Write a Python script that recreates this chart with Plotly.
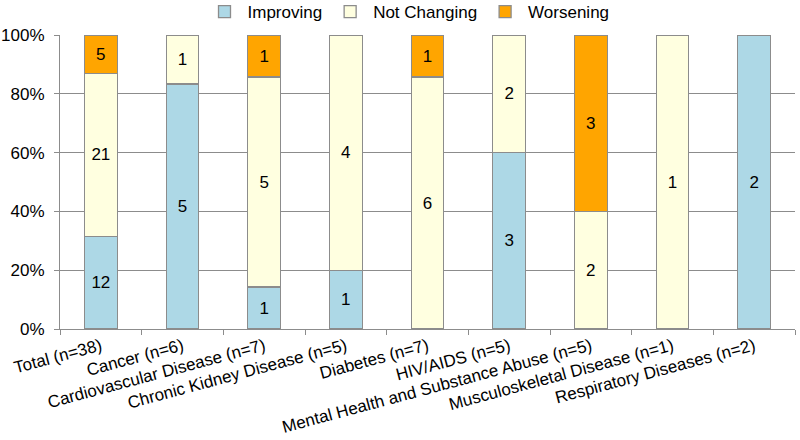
import plotly.graph_objects as go

categories = ["Total (n=38)", "Cancer (n=6)", "Cardiovascular Disease (n=7)",
              "Chronic Kidney Disease (n=5)", "Diabetes (n=7)", "HIV/AIDS (n=5)",
              "Mental Health and Substance Abuse (n=5)", "Musculoskeletal Disease (n=1)",
              "Respiratory Diseases (n=2)"]
improving = [12, 5, 1, 1, 0, 3, 0, 0, 2]
not_changing = [21, 1, 5, 4, 6, 2, 2, 1, 0]
worsening = [5, 0, 1, 0, 1, 0, 3, 0, 0]
y_ticks = [0, 20, 40, 60, 80, 100]
y_tick_labels = ["0%", "20%", "40%", "60%", "80%", "100%"]

series = [("Improving", improving, "#ADD8E6"),
          ("Not Changing", not_changing, "#FFFFE0"),
          ("Worsening", worsening, "#FFA500")]

FONT = "Liberation Sans, Arial"
fig = go.Figure()
for name, vals, color in series:
    xs = [c for c, v in zip(categories, vals) if v]
    ys = [v for v in vals if v]
    fig.add_trace(go.Bar(
        x=xs, y=ys, name=name,
        marker=dict(color=color, line=dict(color="#8c8c8c", width=1.3)),
        text=[str(v) for v in ys],
        textposition="inside", insidetextanchor="middle",
        textfont=dict(family=FONT, size=17, color="black"),
        hoverinfo="skip",
    ))

fig.update_layout(
    barmode="stack", barnorm="percent", bargap=0.6,
    width=800, height=440,
    margin=dict(l=60, r=5, t=35, b=111, autoexpand=False),
    paper_bgcolor="white", plot_bgcolor="white",
    font=dict(family=FONT, size=17, color="black"),
    uniformtext=dict(minsize=17, mode="show"),
    legend=dict(orientation="h", xref="container", x=0.51, xanchor="center",
                y=1.078, yanchor="middle",
                font=dict(size=17), traceorder="normal", itemwidth=36),
    showlegend=True,
)
fig.update_xaxes(
    type="category", categoryorder="array", categoryarray=categories,
    tickangle=-15, tickson="boundaries",
    ticks="outside", ticklen=5, tickcolor="#8c8c8c",
    showline=True, linecolor="#8c8c8c", linewidth=1, showgrid=False,
    tickfont=dict(size=17),
)
fig.update_yaxes(
    range=[0, 100], tickvals=y_ticks, ticktext=y_tick_labels,
    ticks="outside", ticklen=5, tickcolor="#8c8c8c", ticklabelstandoff=6,
    showline=True, linecolor="#8c8c8c", linewidth=1,
    showgrid=True, gridcolor="#8c8c8c", gridwidth=1,
    tickfont=dict(size=17), zeroline=False,
)
fig.write_html("out.html", config={"displayModeBar": False},
               post_script="document.body.style.margin='0';document.body.style.overflow='hidden';")
